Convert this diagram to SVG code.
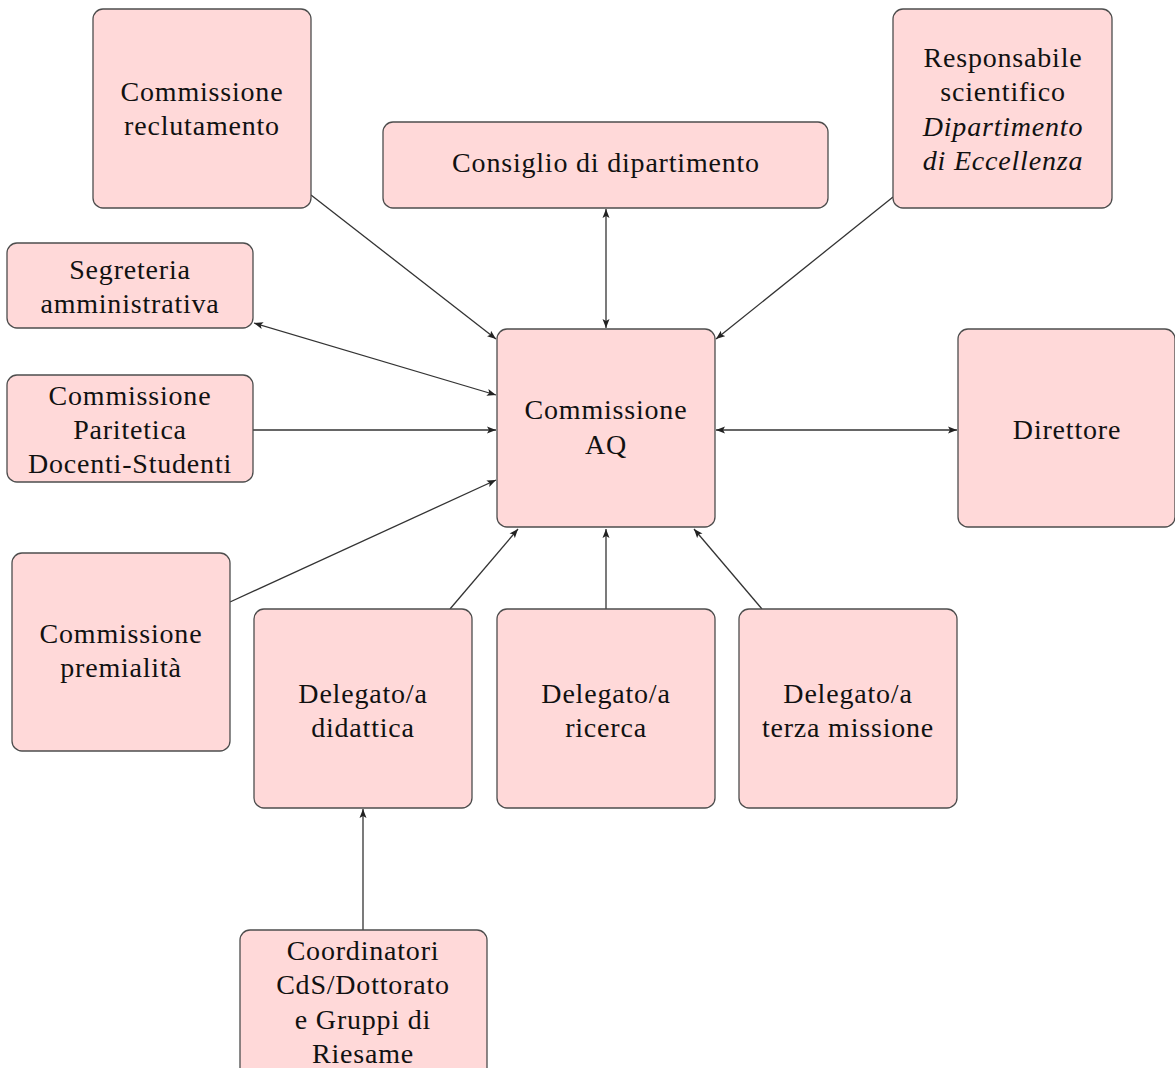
<svg xmlns="http://www.w3.org/2000/svg" width="1175" height="1068" viewBox="0 0 1175 1068">
<style>
.box{fill:#FFD9D9;stroke:#4d4d4d;stroke-width:1.3}
.t{font-family:"Liberation Serif","DejaVu Serif",serif;font-size:28px;letter-spacing:0.8px;fill:#111;text-anchor:middle}
.i{font-style:italic}
.c{stroke:#333;stroke-width:1.3;fill:none}
</style>
<defs>
<marker id="ah" markerUnits="userSpaceOnUse" markerWidth="10" markerHeight="8" refX="9" refY="4" orient="auto-start-reverse">
<path d="M0,0.5 L9,4 L0,7.5 L2,4 Z" fill="#222"/>
</marker>
</defs>
<rect width="1175" height="1068" fill="#fff"/>
<g id="connectors">
<line class="c" x1="311" y1="195" x2="496" y2="339" marker-end="url(#ah)"/>
<line class="c" x1="606" y1="209" x2="606" y2="328" marker-start="url(#ah)" marker-end="url(#ah)"/>
<line class="c" x1="893" y1="197" x2="716" y2="339" marker-end="url(#ah)"/>
<line class="c" x1="254" y1="323" x2="496" y2="395" marker-start="url(#ah)" marker-end="url(#ah)"/>
<line class="c" x1="253" y1="430" x2="496" y2="430" marker-end="url(#ah)"/>
<line class="c" x1="716" y1="430" x2="957" y2="430" marker-start="url(#ah)" marker-end="url(#ah)"/>
<line class="c" x1="230" y1="602" x2="496" y2="480" marker-end="url(#ah)"/>
<line class="c" x1="450" y1="609" x2="518" y2="529" marker-end="url(#ah)"/>
<line class="c" x1="606" y1="609" x2="606" y2="529" marker-end="url(#ah)"/>
<line class="c" x1="762" y1="609" x2="694" y2="529" marker-end="url(#ah)"/>
<line class="c" x1="363" y1="930" x2="363" y2="809" marker-end="url(#ah)"/>
</g>
<g id="n-reclutamento">
<rect class="box" x="93" y="9" width="218" height="199" rx="10"/>
<text class="t" x="202" y="101">Commissione</text>
<text class="t" x="202" y="135">reclutamento</text>
</g>
<g id="n-consiglio">
<rect class="box" x="383" y="122" width="445" height="86" rx="10"/>
<text class="t" x="606" y="172">Consiglio di dipartimento</text>
</g>
<g id="n-responsabile">
<rect class="box" x="893" y="9" width="219" height="199" rx="10"/>
<text class="t" x="1003" y="67">Responsabile</text>
<text class="t" x="1003" y="101">scientifico</text>
<text class="t i" x="1003" y="136">Dipartimento</text>
<text class="t i" x="1003" y="170">di Eccellenza</text>
</g>
<g id="n-segreteria">
<rect class="box" x="7" y="243" width="246" height="85" rx="10"/>
<text class="t" x="130" y="279">Segreteria</text>
<text class="t" x="130" y="313">amministrativa</text>
</g>
<g id="n-paritetica">
<rect class="box" x="7" y="375" width="246" height="107" rx="10"/>
<text class="t" x="130" y="405">Commissione</text>
<text class="t" x="130" y="439">Paritetica</text>
<text class="t" x="130" y="473">Docenti-Studenti</text>
</g>
<g id="n-aq">
<rect class="box" x="497" y="329" width="218" height="198" rx="10"/>
<text class="t" x="606" y="419">Commissione</text>
<text class="t" x="606" y="454">AQ</text>
</g>
<g id="n-direttore">
<rect class="box" x="958" y="329" width="217" height="198" rx="10"/>
<text class="t" x="1067" y="439">Direttore</text>
</g>
<g id="n-premialita">
<rect class="box" x="12" y="553" width="218" height="198" rx="10"/>
<text class="t" x="121" y="643">Commissione</text>
<text class="t" x="121" y="677">premialità</text>
</g>
<g id="n-didattica">
<rect class="box" x="254" y="609" width="218" height="199" rx="10"/>
<text class="t" x="363" y="703">Delegato/a</text>
<text class="t" x="363" y="737">didattica</text>
</g>
<g id="n-ricerca">
<rect class="box" x="497" y="609" width="218" height="199" rx="10"/>
<text class="t" x="606" y="703">Delegato/a</text>
<text class="t" x="606" y="737">ricerca</text>
</g>
<g id="n-terza">
<rect class="box" x="739" y="609" width="218" height="199" rx="10"/>
<text class="t" x="848" y="703">Delegato/a</text>
<text class="t" x="848" y="737">terza missione</text>
</g>
<g id="n-coordinatori">
<rect class="box" x="240" y="930" width="247" height="148" rx="10"/>
<text class="t" x="363" y="960">Coordinatori</text>
<text class="t" x="363" y="994">CdS/Dottorato</text>
<text class="t" x="363" y="1029">e Gruppi di</text>
<text class="t" x="363" y="1063">Riesame</text>
</g>
</svg>
